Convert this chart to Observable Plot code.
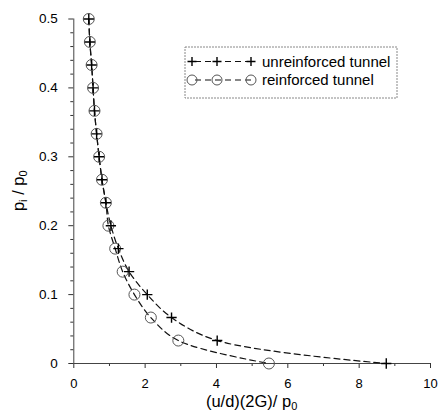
<!DOCTYPE html>
<html>
<head>
<meta charset="utf-8">
<script src="https://cdn.jsdelivr.net/npm/d3@7"></script>
<script src="https://cdn.jsdelivr.net/npm/@observablehq/plot@0.6"></script>
<style>
  html, body { margin: 0; padding: 0; background: #fff; }
  #chart svg { display: block; font-family: "Liberation Sans", Arial, sans-serif; }
</style>
</head>
<body>
<div id="chart"></div>
<script>
// pressure ratio levels p_i / p_0
const pRatio = [0.5, 0.4667, 0.4333, 0.4, 0.3667, 0.3333, 0.3, 0.2667, 0.2333, 0.2, 0.1667, 0.1333, 0.1, 0.0667, 0.0333, 0];
// normalized displacement (u/d)(2G)/p0
const unreinforced = [0.42, 0.45, 0.50, 0.54, 0.58, 0.64, 0.71, 0.79, 0.90, 1.04, 1.25, 1.55, 2.06, 2.74, 4.02, 8.76];
const reinforced   = [0.42, 0.45, 0.50, 0.54, 0.58, 0.64, 0.71, 0.79, 0.90, 0.97, 1.16, 1.37, 1.70, 2.16, 2.93, 5.47];
const seriesNames = ["unreinforced tunnel", "reinforced tunnel"];
const xMajorTicks = [0, 2, 4, 6, 8, 10];
const xMinorTicks = [1, 3, 5, 7, 9];
const yMajorTicks = [0, 0.1, 0.2, 0.3, 0.4, 0.5];
const yMinorTicks = d3.range(0, 0.5001, 0.02).filter(v => Math.abs(v * 10 - Math.round(v * 10)) > 1e-6);

const unrData = pRatio.map((p, i) => ({x: unreinforced[i], y: p}));
const reiData = pRatio.map((p, i) => ({x: reinforced[i], y: p}));

const W = 438, H = 411;
const plot = Plot.plot({
  width: W, height: H,
  marginLeft: 73.3, marginRight: 8, marginTop: 18.5, marginBottom: 48,
  x: {domain: [0, 10]},
  y: {domain: [0, 0.5]},
  style: {fontFamily: "Liberation Sans, Arial, sans-serif", fontSize: "13px", color: "#000", background: "#fff"},
  marks: [
    Plot.axisX({ticks: xMajorTicks, tickSize: 5, tickPadding: 10, label: null, stroke: "#333", fontSize: 13}),
    Plot.axisX({ticks: xMinorTicks, tickSize: 3, text: null, label: null, stroke: "#333"}),
    Plot.axisY({ticks: yMajorTicks, tickSize: 5, tickPadding: 11, label: null, stroke: "#333", fontSize: 13.5,
                tickFormat: d => d === 0 ? "0" : d3.format(".1f")(d)}),
    Plot.axisY({ticks: yMinorTicks, tickSize: 3, text: null, label: null, stroke: "#333"}),
    Plot.ruleY([0], {x1: 0, x2: 10, stroke: "#444", strokeWidth: 1}),
    Plot.ruleX([0], {y1: 0, y2: 0.5, stroke: "#444", strokeWidth: 1}),
    Plot.line(reiData, {x: "x", y: "y", curve: "catmull-rom", stroke: "#111", strokeWidth: 1.2, strokeDasharray: "6,4"}),
    Plot.line(unrData, {x: "x", y: "y", curve: "catmull-rom", stroke: "#111", strokeWidth: 1.2, strokeDasharray: "6,4"}),
    Plot.dot(reiData, {x: "x", y: "y", r: 5.5, stroke: "#555", strokeWidth: 1, fill: "none"}),
    Plot.dot(unrData, {x: "x", y: "y", symbol: "plus", r: 3.4, stroke: "#000", strokeWidth: 1.4})
  ]
});
document.getElementById("chart").appendChild(plot);

const svg = d3.select(plot);
const xs = plot.scale("x"), ys = plot.scale("y");

// x-axis title with subscript
const xt = svg.append("text")
  .attr("x", (xs.apply(0) + xs.apply(10)) / 2)
  .attr("y", 406.5)
  .attr("text-anchor", "middle")
  .attr("font-size", 16.5)
  .attr("fill", "#000");
xt.append("tspan").text("(u/d)(2G)/ p");
xt.append("tspan").attr("font-size", 11).attr("dy", 3).text("0");

// y-axis title with subscripts
const yt = svg.append("text")
  .attr("transform", `translate(24,${(ys.apply(0) + ys.apply(0.5)) / 2}) rotate(-90)`)
  .attr("text-anchor", "middle")
  .attr("font-size", 16.5)
  .attr("fill", "#000");
yt.append("tspan").text("p");
yt.append("tspan").attr("font-size", 11).attr("dy", 3).text("i");
yt.append("tspan").attr("dy", -3).text(" / p");
yt.append("tspan").attr("font-size", 11).attr("dy", 3).text("0");

// legend
const lg = svg.append("g");
lg.append("rect").attr("x", 185).attr("y", 47).attr("width", 212).attr("height", 51)
  .attr("fill", "none").attr("stroke", "#888").attr("stroke-dasharray", "2,1").attr("stroke-width", 1);
const rows = [{y: 61.5, name: seriesNames[0], sym: "plus"}, {y: 80, name: seriesNames[1], sym: "circle"}];
rows.forEach(r => {
  lg.append("line").attr("x1", 192).attr("x2", 252).attr("y1", r.y).attr("y2", r.y)
    .attr("stroke", "#111").attr("stroke-width", 1.2).attr("stroke-dasharray", "6,4").attr("stroke-dashoffset", -3);
  [192, 217, 251].forEach(cx => {
    if (r.sym === "plus") {
      lg.append("path").attr("d", `M${cx - 4.5},${r.y}H${cx + 4.5}M${cx},${r.y - 4.5}V${r.y + 4.5}`)
        .attr("stroke", "#000").attr("stroke-width", 1.4).attr("fill", "none");
    } else {
      lg.append("circle").attr("cx", cx).attr("cy", r.y).attr("r", 5)
        .attr("stroke", "#555").attr("fill", "none").attr("stroke-width", 1);
    }
  });
  lg.append("text").attr("x", 262).attr("y", r.y + 5).attr("text-anchor", "start")
    .attr("font-size", 15).attr("fill", "#000").text(r.name);
});
</script>
</body>
</html>
